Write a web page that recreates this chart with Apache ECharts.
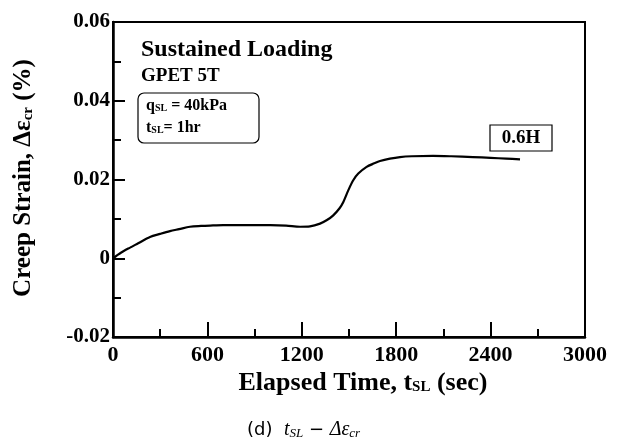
<!DOCTYPE html>
<html>
<head>
<meta charset="utf-8">
<script src="https://cdn.jsdelivr.net/npm/echarts@6/dist/echarts.min.js"></script>
<style>
html,body{margin:0;padding:0;background:#fff;}
#chart{width:624px;height:448px;}
</style>
</head>
<body>
<div id="chart"></div>
<script>
// Data
const timeSec = [0, 50, 108, 160, 235, 300, 362, 420, 489, 560, 617, 700, 800, 900, 1000, 1100, 1189, 1252, 1316, 1360, 1400, 1440, 1464, 1496, 1527, 1559, 1612, 1660, 1697, 1760, 1824, 1900, 2034, 2150, 2288, 2400, 2500, 2587];
const creepStrain = [0, 0.0014, 0.0027, 0.0038, 0.0054, 0.0062, 0.0069, 0.0074, 0.0080, 0.0082, 0.0083, 0.0084, 0.0084, 0.0084, 0.0084, 0.0083, 0.0080, 0.0081, 0.0088, 0.0097, 0.0109, 0.0127, 0.0143, 0.0173, 0.0198, 0.0215, 0.0232, 0.0241, 0.0247, 0.0253, 0.0257, 0.0259, 0.0260, 0.0259, 0.0257, 0.0255, 0.0253, 0.0251];
const xTickLabels = ['0', '600', '1200', '1800', '2400', '3000'];
const yTickLabels = ['-0.02', '0', '0.02', '0.04', '0.06'];

const serif = '"Liberation Serif", "DejaVu Serif", serif';
const chart = echarts.init(document.getElementById('chart'), null, {renderer: 'canvas'});
const points = timeSec.map((t, i) => [t, creepStrain[i]]);

const option = {
  backgroundColor: '#ffffff',
  animation: false,
  grid: {left: 113, right: 39, top: 22, bottom: 111, show: true, borderColor: '#000', borderWidth: 2, backgroundColor: 'transparent'},
  xAxis: {
    type: 'value', min: 0, max: 3000, interval: 600,
    axisLine: {show: true, onZero: false, lineStyle: {color: '#000', width: 2.5}},
    axisTick: {show: true, inside: true, length: 15, lineStyle: {color: '#000', width: 2}},
    minorTick: {show: true, splitNumber: 2, length: 8, lineStyle: {color: '#000', width: 2}},
    splitLine: {show: false},
    axisLabel: {
      margin: 7, color: '#000', fontFamily: serif, fontWeight: 'bold', fontSize: 22,
      formatter: v => xTickLabels[Math.round(v / 600)]
    }
  },
  yAxis: {
    type: 'value', min: -0.02, max: 0.06, interval: 0.02,
    axisLine: {show: true, onZero: false, lineStyle: {color: '#000', width: 2.5}},
    axisTick: {show: true, inside: true, length: 12, lineStyle: {color: '#000', width: 2}},
    minorTick: {show: true, splitNumber: 2, length: 8, lineStyle: {color: '#000', width: 2}},
    splitLine: {show: false},
    axisLabel: {
      margin: 3, color: '#000', fontFamily: serif, fontWeight: 'bold', fontSize: 21,
      formatter: v => yTickLabels[Math.round((v + 0.02) / 0.02)]
    }
  },
  series: [{
    type: 'line', data: points, showSymbol: false, smooth: 0.3,
    lineStyle: {color: '#000', width: 2.2}
  }],
  graphic: [
    {type: 'text', left: 141, top: 38, style: {text: 'Sustained Loading', font: 'bold 24px ' + serif, fill: '#000'}},
    {type: 'text', left: 141, top: 67, style: {text: 'GPET 5T', font: 'bold 19px ' + serif, fill: '#000'}},
    {type: 'rect', shape: {x: 138, y: 93, width: 121, height: 50, r: 6}, style: {fill: 'none', stroke: '#000', lineWidth: 1.2}},
    {type: 'text', left: 146, top: 98, style: {
      text: '{b|q}{s|SL}{b| = 40kPa}\n{b|t}{s|SL}{b|= 1hr}',
      rich: {
        b: {font: 'bold 16px ' + serif, fill: '#000', lineHeight: 22},
        s: {font: 'bold 10px ' + serif, fill: '#000', lineHeight: 22, padding: [5, 0, 0, 0]}
      }
    }},
    {type: 'rect', shape: {x: 490, y: 125, width: 62, height: 26}, style: {fill: '#fff', stroke: '#000', lineWidth: 1.2}},
    {type: 'text', x: 521, y: 138, style: {text: '0.6H', font: 'bold 19px ' + serif, fill: '#000', align: 'center', verticalAlign: 'middle'}},
    {type: 'text', x: 363, y: 383, style: {
      text: '{b|Elapsed Time, t}{s|SL}{b| (sec)}', align: 'center', verticalAlign: 'middle',
      rich: {
        b: {font: 'bold 26px ' + serif, fill: '#000'},
        s: {font: 'bold 15px ' + serif, fill: '#000', padding: [9, 0, 0, 0]}
      }
    }},
    {type: 'text', x: 24, y: 178, rotation: Math.PI / 2, style: {
      text: '{b|Creep Strain, Δε}{s|cr}{b| (%)}', align: 'center', verticalAlign: 'middle',
      rich: {
        b: {font: 'bold 25px ' + serif, fill: '#000'},
        s: {font: 'bold 15px ' + serif, fill: '#000', padding: [9, 0, 0, 0]}
      }
    }},
    {type: 'text', x: 247, y: 430, style: {
      text: '{n|(d)  }{i|t}{is|SL}{n| − }{i|Δε}{is|cr}', verticalAlign: 'middle',
      rich: {
        n: {font: '18px "DejaVu Sans", sans-serif', fill: '#000'},
        i: {font: 'italic 20px ' + serif, fill: '#000'},
        is: {font: 'italic 13px ' + serif, fill: '#000', padding: [8, 0, 0, 0]}
      }
    }}
  ]
};
chart.setOption(option);
</script>
</body>
</html>
